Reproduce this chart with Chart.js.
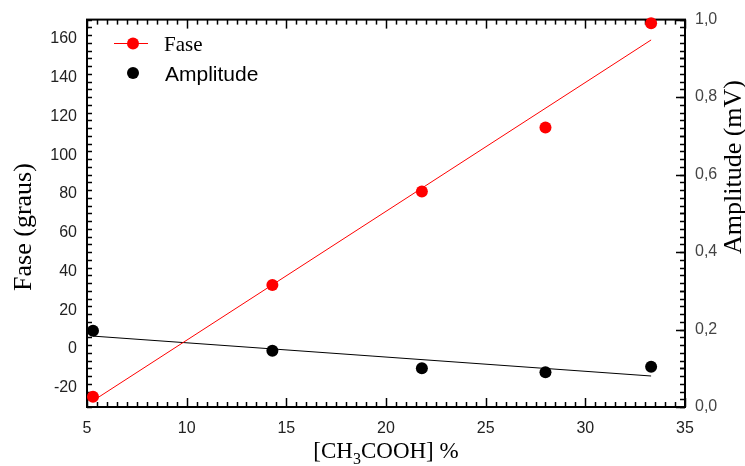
<!DOCTYPE html>
<html>
<head>
<meta charset="utf-8">
<script src="https://cdn.jsdelivr.net/npm/chart.js@4/dist/chart.umd.min.js"></script>
<style>
  html, body { margin: 0; padding: 0; background: #fff; }
  #grafico { display: block; }
</style>
</head>
<body>
<canvas id="grafico" width="745" height="466"></canvas>
<script>
// Concentração de ácido acético (%)
const concentracao = [5.3, 14.3, 21.8, 28.0, 33.3];
// Fase medida (graus)
const fase = [-24.7, 33.0, 81.3, 114.3, 168.1];
// Amplitude medida (mV)
const amplitude = [0.197, 0.145, 0.100, 0.090, 0.104];
// Retas de ajuste linear (extremos)
const ajusteX = [5.3, 33.3];
const ajusteFase = [-26.8, 159.5];
const ajusteAmplitude = [0.183, 0.080];
// Marcas com rótulo
const marcasX = [5, 10, 15, 20, 25, 30, 35];
const marcasFase = [-20, 0, 20, 40, 60, 80, 100, 120, 140, 160];
const marcasAmplitude = [0, 0.2, 0.4, 0.6, 0.8, 1.0];

const VERMELHO = '#ff0000';
const PRETO = '#000000';
const SANS = '"Liberation Sans", Arial, sans-serif';
const SERIF = '"Liberation Serif", "Times New Roman", serif';

const pares = (xs, ys) => xs.map((x, i) => ({ x: x, y: ys[i] }));
const comoMarcas = vs => vs.map(v => ({ value: v }));

// Moldura, marcas internas, títulos e legenda
const decoracao = {
  id: 'decoracao',
  beforeDatasetsDraw(chart) {
    const { ctx, chartArea: a, scales } = chart;
    const sx = scales.x, sy = scales.y, sy1 = scales.y1;
    ctx.save();
    ctx.strokeStyle = PRETO;
    ctx.lineWidth = 1.5;
    const marca = (p1x, p1y, p2x, p2y) => {
      ctx.beginPath(); ctx.moveTo(p1x, p1y); ctx.lineTo(p2x, p2y); ctx.stroke();
    };
    // eixo x: maiores a cada 5, menores a cada 0,5 (em baixo e em cima)
    for (let k = 0; k <= 60; k++) {
      const v = 5 + k * 0.5;
      const px = Math.round(sx.getPixelForValue(v)) + 0.5;
      const len = (k % 10 === 0) ? 9 : 5;
      marca(px, a.bottom, px, a.bottom - len);
      marca(px, a.top, px, a.top + len);
    }
    // eixo esquerdo: maiores a cada 20, menores a cada 4 (também à direita)
    for (let k = 0; k <= 50; k++) {
      const v = -30 + k * 4;
      if (v > 170) continue;
      const py = Math.round(sy.getPixelForValue(v)) + 0.5;
      const len = (v % 20 === 0) ? 9 : 5;
      marca(a.left, py, a.left + len, py);
      marca(a.right, py, a.right - len, py);
    }
    // eixo direito: maiores a cada 0,2, menores a cada 0,1
    for (let k = 0; k <= 10; k++) {
      const v = k * 0.1;
      const py = Math.round(sy1.getPixelForValue(v)) + 0.5;
      const len = (k % 2 === 0) ? 9 : 5;
      marca(a.right, py, a.right - len, py);
    }
    // moldura
    ctx.lineWidth = 2;
    ctx.strokeRect(a.left, a.top, a.right - a.left, a.bottom - a.top);
    ctx.restore();
  },
  afterDraw(chart) {
    const { ctx, chartArea: a } = chart;
    ctx.save();
    ctx.fillStyle = PRETO;

    // título do eixo esquerdo
    ctx.save();
    ctx.translate(31, 227);
    ctx.rotate(-Math.PI / 2);
    ctx.font = '26px ' + SERIF;
    ctx.textAlign = 'center';
    ctx.textBaseline = 'alphabetic';
    ctx.fillText('Fase (graus)', 0, 0);
    ctx.restore();

    // título do eixo direito
    ctx.save();
    ctx.translate(741, 167);
    ctx.rotate(-Math.PI / 2);
    ctx.font = '26px ' + SERIF;
    ctx.textAlign = 'center';
    ctx.textBaseline = 'alphabetic';
    ctx.fillText('Amplitude (mV)', 0, 0);
    ctx.restore();

    // título do eixo x com índice
    const partes = [
      { t: '[CH', f: '23px ' + SERIF, dy: 0 },
      { t: '3', f: '16px ' + SERIF, dy: 6 },
      { t: 'COOH] %', f: '23px ' + SERIF, dy: 0 }
    ];
    let total = 0;
    partes.forEach(p => { ctx.font = p.f; p.w = ctx.measureText(p.t).width; total += p.w; });
    let x = (a.left + a.right) / 2 - total / 2;
    const base = 458;
    ctx.textAlign = 'left';
    ctx.textBaseline = 'alphabetic';
    partes.forEach(p => { ctx.font = p.f; ctx.fillText(p.t, x, base + p.dy); x += p.w; });

    // legenda
    ctx.strokeStyle = VERMELHO;
    ctx.lineWidth = 1;
    ctx.beginPath(); ctx.moveTo(114, 43.5); ctx.lineTo(148, 43.5); ctx.stroke();
    ctx.fillStyle = VERMELHO;
    ctx.beginPath(); ctx.arc(133, 43.5, 6, 0, Math.PI * 2); ctx.fill();
    ctx.fillStyle = PRETO;
    ctx.beginPath(); ctx.arc(133, 73, 6, 0, Math.PI * 2); ctx.fill();
    ctx.font = '21px ' + SERIF;
    ctx.fillText('Fase', 164, 51);
    ctx.font = '21px ' + SANS;
    ctx.fillText('Amplitude', 165, 81);
    ctx.restore();
  }
};

new Chart(document.getElementById('grafico'), {
  type: 'scatter',
  data: {
    datasets: [
      {
        label: 'Ajuste fase',
        data: pares(ajusteX, ajusteFase),
        yAxisID: 'y',
        showLine: true,
        borderColor: VERMELHO,
        borderWidth: 1,
        pointRadius: 0,
        clip: false
      },
      {
        label: 'Ajuste amplitude',
        data: pares(ajusteX, ajusteAmplitude),
        yAxisID: 'y1',
        showLine: true,
        borderColor: PRETO,
        borderWidth: 1,
        pointRadius: 0,
        clip: false
      },
      {
        label: 'Fase',
        data: pares(concentracao, fase),
        yAxisID: 'y',
        backgroundColor: VERMELHO,
        borderColor: VERMELHO,
        borderWidth: 0,
        pointRadius: 6,
        clip: false
      },
      {
        label: 'Amplitude',
        data: pares(concentracao, amplitude),
        yAxisID: 'y1',
        backgroundColor: PRETO,
        borderColor: PRETO,
        borderWidth: 0,
        pointRadius: 6,
        clip: false
      }
    ]
  },
  options: {
    responsive: false,
    maintainAspectRatio: false,
    animation: false,
    events: [],
    layout: { padding: { top: 19, left: 0, right: 0, bottom: 0 } },
    plugins: { legend: { display: false }, tooltip: { enabled: false } },
    scales: {
      x: {
        type: 'linear',
        min: 5, max: 35,
        grid: { display: false, drawTicks: false },
        border: { display: false },
        afterBuildTicks(s) { s.ticks = comoMarcas(marcasX); },
        ticks: {
          padding: 12,
          color: '#222',
          font: { family: SANS, size: 16 },
          maxRotation: 0
        },
        afterFit(s) { s.height = 59; }
      },
      y: {
        type: 'linear',
        position: 'left',
        min: -30, max: 170,
        grid: { display: false, drawTicks: false },
        border: { display: false },
        afterBuildTicks(s) { s.ticks = comoMarcas(marcasFase); },
        ticks: {
          padding: 10,
          color: '#222',
          font: { family: SANS, size: 16 }
        },
        afterFit(s) { s.width = 87; }
      },
      y1: {
        type: 'linear',
        position: 'right',
        min: 0, max: 1,
        grid: { display: false, drawTicks: false },
        border: { display: false },
        afterBuildTicks(s) { s.ticks = comoMarcas(marcasAmplitude); },
        ticks: {
          padding: 10,
          color: '#444',
          font: { family: SANS, size: 16 },
          callback: v => v.toFixed(1).replace('.', ',')
        },
        afterFit(s) { s.width = 60; }
      }
    }
  },
  plugins: [decoracao]
});
</script>
</body>
</html>
